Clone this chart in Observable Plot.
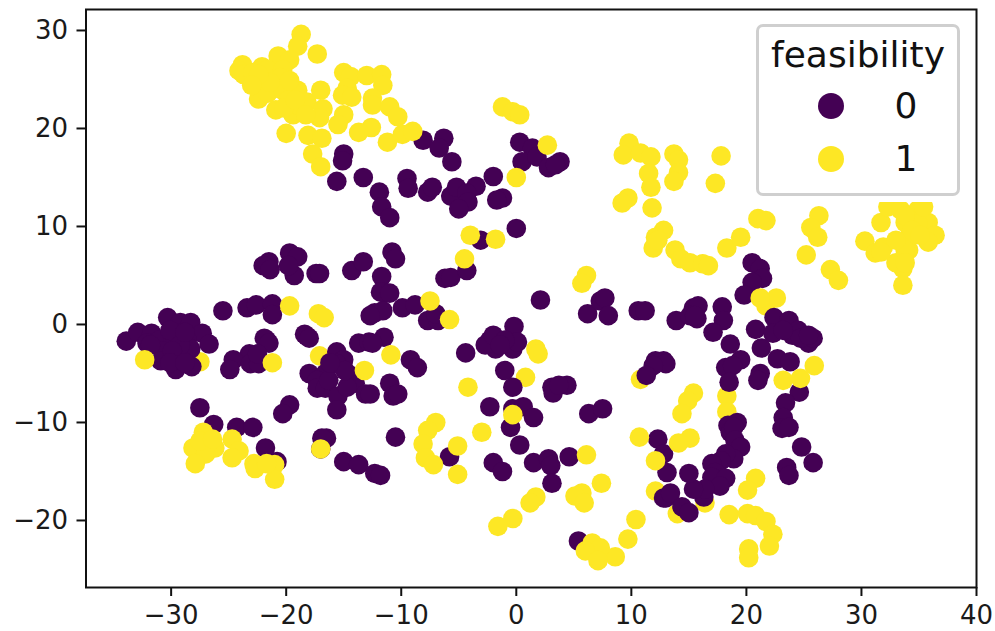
<!DOCTYPE html>
<html>
<head>
<meta charset="utf-8">
<script src="https://cdn.jsdelivr.net/npm/d3@7"></script>
<script src="https://cdn.jsdelivr.net/npm/@observablehq/plot@0.6"></script>
<style>
html,body{margin:0;padding:0;background:#fff;}
#wrap{position:relative;width:995px;height:631px;font-family:"DejaVu Sans",sans-serif;overflow:hidden;}
#wrap svg{display:block;}
#legend{position:absolute;left:756px;top:24px;width:204px;height:178px;background:#fff;}
#legend .box{position:absolute;left:0;top:0;width:198px;height:166px;border:3px solid #cfcfcf;border-radius:7px;background:#fff;}
#legend .t{position:absolute;color:#111;font-size:36px;line-height:40px;white-space:pre;}
#legend .d{position:absolute;width:26px;height:26px;border-radius:50%;}
</style>
</head>
<body>
<div id="wrap"></div>
<script>
const xTicks = [-30,-20,-10,0,10,20,30,40];
const yTicks = [-20,-10,0,10,20,30];
const classes = [0,1];
const classColors = ["#440154","#fde725"];
const legendTitle = "feasibility";

const yellowUnder = [[-29.9,-0.8],[-27.5,-3.8],[10.8,-5.6],[12.1,-17.0],[14.0,-19.3],[16.4,-18.2],[21.7,1.9],[22.6,2.7],[0.8,-5.4],[18.3,-7.3],[18.3,-8.9],[-17.1,-3.2]];

const purple = [
[-33.9,-1.7],[-32.9,-0.8],[-31.7,-0.9],[-30.3,0.7],[-29.2,0.2],[-28.3,0.2],[-27.3,-0.9],[-26.7,-2.0],[-32.1,-1.9],[-31.0,-1.6],[-29.8,-1.6],[-28.6,-1.6],[-30.7,-2.7],[-28.3,-2.5],[-30.9,-3.7],[-29.5,-3.4],[-29.6,-4.6],[-28.2,-4.3],[-29.2,-0.9],
[-30.1,-0.6],[-29.2,-2.1],[-29.9,-2.7],[-28.8,-0.8],[-31.8,-2.1],[-30.1,-3.9],[-28.8,-3.9],
[-25.5,1.4],[-23.4,1.7],[-22.6,2.0],[-21.2,2.1],[-21.2,1.0],[-21.7,-1.6],[-21.9,-1.4],[-21.5,-1.9],[-23.2,-3.0],[-24.6,-3.6],[-24.9,-4.6],[-23.1,-4.0],[-22.4,-4.0],[-22.5,-3.0],
[-21.5,6.4],[-22.0,6.0],[-21.4,5.6],[-19.7,7.3],[-19.0,6.9],[-19.3,5.0],[-19.8,6.0],[-17.4,5.2],[-17.1,5.2],[-14.3,5.5],[-13.3,6.4],[-18.2,-1.2],[-18.4,-1.0],[-18.0,-1.4],
[-15.6,-2.8],[-15.0,-3.6],[-15.6,-4.0],[-18.0,-5.0],[-16.6,-5.0],[-17.3,-5.7],[-17.3,-6.5],[-16.6,-6.5],[-16.3,-5.7],[-14.4,-5.2],[-14.0,-6.0],[-13.1,-7.1],[-15.5,-7.3],[-15.6,-8.7],[-14.7,-6.4],[-13.7,-1.9],[-12.8,-1.8],[-14.9,-4.7],[-16.2,-3.9],
[-27.5,-8.5],[-26.3,-10.2],[-24.3,-10.5],[-22.9,-10.5],[-21.8,-12.6],[-20.8,-14.0],[-19.7,-8.2],[-20.3,-9.1],[-16.5,-11.6],[-16.9,-11.6],[-17.0,-12.7],[-15.0,-14.0],[-13.7,-14.3],[-12.3,-15.2],[-11.8,-15.4],
[-15.0,17.4],[-15.1,16.7],[-15.6,14.6],[-13.3,15.0],[-11.9,13.5],[-11.7,12.0],[-11.0,10.9],[-8.1,18.8],[-6.3,19.0],[-6.7,18.0],[-5.6,16.6],[-9.5,14.9],[-9.4,13.9],[-7.7,13.5],[-7.3,14.0],[-5.7,13.1],[-5.2,14.0],[-3.5,14.1],[-4.3,13.4],[-4.2,12.5],[-5.0,11.8],[-2.0,15.1],[-1.2,12.9],[-1.7,12.7],
[0.3,18.6],[1.4,18.0],[0.5,16.6],[1.8,17.1],[2.8,16.0],[3.8,16.6],[3.4,16.3],[-3.1,8.6],[0.0,9.8],[-10.8,7.4],[-10.5,6.7],
[-11.7,4.9],[-11.4,3.2],[-11.8,3.3],[-11.0,3.2],[-12.3,1.2],[-11.6,1.4],[-12.7,0.9],[-9.9,1.7],[-8.8,2.0],[-7.7,0.4],[-6.8,0.4],[-7.0,1.1],[-6.2,4.7],[-5.7,4.8],[-4.3,5.5],[-11.5,-1.3],[-12.5,-1.9],[-9.2,-3.6],[-8.6,-4.4],[-11.0,-6.0],[-10.7,-7.3],[-10.3,-7.1],[-12.7,-7.1],[-10.5,-11.5],
[-4.4,-2.9],[-0.2,-0.2],[-2.3,-1.6],[-1.8,-2.5],[-2.7,-2.1],[-2.0,-1.1],[-0.3,-2.5],[0.1,-1.8],[-1.0,-1.6],[-1.4,-2.1],[-1.0,-4.7],[-0.3,-6.4],[2.1,2.5],[3.1,-6.4],[4.4,-6.2],[3.2,-7.0],[3.7,-6.2],[-2.3,-8.4],[-0.5,-10.5],[-0.3,-8.6],[0.6,-8.4],[1.5,-9.5],[0.3,-12.3],[-2.0,-14.1],[-1.2,-15.0],[1.5,-14.1],[2.8,-13.7],[3.0,-14.4],[4.6,-13.5],[3.1,-16.2],[-5.8,-13.5],[5.4,-22.1],[6.3,-9.1],[7.5,-8.6],[6.2,1.1],[7.3,2.4],[7.7,2.7],[8.0,0.9],[10.6,1.4],[11.2,1.4],
[12.3,-11.7],[12.8,-13.2],[13.1,-15.1],[12.8,-17.7],[13.9,0.4],[15.4,1.7],[15.8,1.9],[15.7,0.6],[15.1,0.9],[15.5,0.9],[17.9,1.8],[18.0,0.4],[17.1,-0.8],[18.6,-2.0],[19.5,-3.6],[18.2,-4.4],[18.8,-4.2],[18.5,-5.9],
[20.5,6.3],[21.2,5.7],[21.4,4.7],[20.5,4.3],[19.8,3.0],[20.8,-0.5],[21.3,-2.4],[22.4,0.7],[22.3,-0.9],[23.7,0.4],[24.0,-1.1],[24.5,-0.6],[25.4,-1.9],[25.8,-1.4],[24.7,-1.4],[23.2,-0.6],[25.4,-1.1],[22.7,-3.5],[23.8,-3.8],[21.2,-5.0],[21.0,-5.7],[24.6,-6.9],[23.4,-8.0],[23.2,-9.5],[23.1,-10.6],[23.7,-10.5],[24.8,-12.5],[25.8,-14.1],[23.5,-14.6],[23.7,-15.4],
[12.8,-3.7],[12.1,-3.7],[13.0,-4.0],[11.9,-4.2],[11.3,-5.2],[18.4,-10.3],[19.2,-10.0],[18.6,-11.0],[18.9,-10.5],[19.0,-11.8],[19.5,-12.5],[18.9,-13.7],[18.2,-13.2],[17.8,-13.9],[17.0,-14.2],[17.3,-15.1],[17.0,-15.6],[18.2,-15.7],[17.7,-16.5],[16.3,-17.6],[16.4,-16.8],[15.4,-16.8],[15.0,-15.2],[13.0,-17.7],[13.4,-17.2],[14.4,-18.6],[15.0,-19.2]
];

const yellowOver = [
[-32.3,-3.6],[-19.7,1.9],[-17.2,1.1],[-16.7,0.7],[-21.2,-3.9],[-13.2,-4.7],[-17.0,-12.7],
[-27.2,-11.0],[-28.1,-12.6],[-27.0,-12.1],[-26.2,-12.6],[-27.0,-13.2],[-27.9,-14.2],[-24.7,-11.7],[-24.1,-12.9],[-24.7,-13.6],[-22.8,-14.2],[-22.7,-14.7],[-21.0,-14.3],[-21.0,-15.8],[-21.7,-14.2],[-27.5,-11.9],[-26.4,-11.7],
[-18.7,29.6],[-19.0,28.4],[-17.3,27.6],[-23.8,26.5],[-24.1,25.9],[-23.7,25.5],[-20.7,27.4],[-19.7,27.0],[-22.1,26.3],[-22.9,25.7],[-21.6,26.0],[-20.3,26.0],[-22.0,24.7],[-20.5,25.2],[-22.4,23.0],[-21.6,23.6],[-19.0,23.9],[-20.3,23.9],[-19.8,22.9],[-20.9,21.9],[-19.4,21.4],[-18.8,22.2],[-18.2,22.7],[-17.0,23.9],[-20.0,19.5],[-16.8,22.0],[-17.1,21.1],[-15.0,21.4],[-15.5,20.4],[-18.1,19.3],[-16.9,19.0],[-17.7,17.4],[-17.0,16.1],
[-21.4,24.7],[-22.4,25.5],[-20.2,22.1],[-19.2,22.9],[-18.3,21.4],[-23.0,24.4],[-19.7,24.9],
[-15.0,25.7],[-14.4,25.3],[-13.0,25.4],[-11.7,25.5],[-11.6,24.4],[-14.7,24.1],[-15.1,23.4],[-14.3,23.2],[-12.5,23.1],[-12.5,22.4],[-11.0,22.2],[-10.3,21.2],[-12.6,20.1],[-13.7,19.6],[-11.2,18.6],[-9.9,19.4],[-9.0,19.7],
[-1.2,22.2],[-0.3,21.7],[0.3,21.4],[2.7,18.3],[0.0,15.0],[-4.0,9.1],[-1.8,8.7],[-4.5,6.7],
[-7.5,2.4],[-5.8,0.5],[-10.9,-3.1],[-4.2,-6.4],[1.7,-2.5],[1.9,-3.0],[6.1,5.0],[5.7,4.2],[-7.0,-10.0],[-7.7,-10.8],[-8.1,-12.2],[-7.9,-13.6],[-7.2,-14.3],[-5.1,-12.4],[-5.1,-15.3],[-3.0,-11.0],[-0.3,-9.2],[6.1,-13.3],[7.4,-16.2],[1.7,-17.6],[1.2,-18.2],[-0.3,-19.8],[-1.6,-20.6],[5.7,-17.2],[5.1,-17.5],[5.9,-18.2],[10.4,-19.9],[9.7,-21.9],[8.6,-23.7],[6.6,-22.3],[7.3,-22.8],[6.0,-23.1],[7.1,-24.1],[10.7,-11.5],[12.1,-13.9],
[15.4,-7.0],[14.9,-7.8],[14.4,-9.1],[15.1,-11.6],[14.1,-12.1],[20.8,-15.7],[20.1,-16.9],[18.5,-19.4],[20.1,-19.3],[20.8,-19.5],[21.7,-20.1],[22.3,-21.4],[22.0,-22.6],[20.2,-22.9],[20.2,-23.8],[21.2,2.7],[23.2,-5.7],[24.7,-5.5],[25.9,-4.2],
[9.8,18.5],[9.3,17.3],[10.8,17.5],[11.7,17.1],[11.5,15.4],[11.7,14.0],[9.7,12.9],[9.2,12.4],[11.8,11.9],[13.7,17.4],[14.1,16.8],[14.1,15.5],[13.7,14.6],[17.8,17.2],[17.3,14.4],[12.8,9.6],[12.1,8.9],[11.9,7.8],[13.8,7.6],[14.3,6.7],[15.1,6.3],[16.2,6.2],[16.7,6.0],[18.3,7.8],[19.5,8.9],[21.0,10.8],[21.7,10.6],[26.3,11.1],[25.6,9.9],[26.2,8.9],[25.2,7.1],[27.3,5.6],[28.0,4.5],[30.3,8.5],[31.2,7.3],[31.9,7.9],[33.6,5.7],[33.6,4.0],[34.1,7.6],[31.7,10.4],[32.3,12.0],[33.4,11.7],[34.9,11.7],[35.8,10.4],[36.4,9.1],[35.8,8.4],[34.1,8.9],[34.9,10.3],[35.4,12.0],[33.8,10.4],[33.0,6.3],[12.3,8.6],[33.8,11.1],[34.4,9.6],[33.8,7.6],[33.0,8.6],[35.1,9.1],[33.8,6.3],[31.7,7.4]
];

const px = d => d[0], py = d => d[1];
const fmt = d => String(d).replace("-", "\u2212");
const chart = Plot.plot({
  width: 995, height: 631,
  marginLeft: 85.5, marginRight: 19, marginTop: 9, marginBottom: 44,
  x: {domain: [-37.4, 40]},
  y: {domain: [-26.84, 32.14]},
  color: {type: "ordinal", domain: classes, range: classColors},
  style: {background: "#fff", fontFamily: '"DejaVu Sans", sans-serif'},
  marks: [
    Plot.dot(yellowUnder, {x: px, y: py, r: 9.8, fill: () => classes[1]}),
    Plot.dot(purple, {x: px, y: py, r: 9.8, fill: () => classes[0]}),
    Plot.dot(yellowOver, {x: px, y: py, r: 9.8, fill: () => classes[1]}),
    Plot.frame({stroke: "#111", strokeWidth: 2}),
    Plot.axisX({ticks: xTicks, tickSize: 9, tickPadding: 9, fontSize: 26, label: null, stroke: "#111", strokeWidth: 2, color: "#1a1a1a", tickFormat: fmt}),
    Plot.axisY({ticks: yTicks, tickSize: 9, tickPadding: 9, fontSize: 26, label: null, stroke: "#111", strokeWidth: 2, color: "#1a1a1a", tickFormat: fmt})
  ]
});
const wrap = document.getElementById("wrap");
wrap.appendChild(chart);

const lg = document.createElement("div");
lg.id = "legend";
const box = document.createElement("div");
box.className = "box";
lg.appendChild(box);
function addText(s, cx, cy){
  const e = document.createElement("div");
  e.className = "t"; e.textContent = s;
  e.style.left = cx + "px"; e.style.top = (cy - 20) + "px";
  e.style.transform = "translateX(-50%)";
  lg.appendChild(e);
}
addText(legendTitle, 102, 31);
const rowY = [82, 135];
classes.forEach((c, i) => {
  const d = document.createElement("div");
  d.className = "d";
  d.style.left = (75 - 13) + "px";
  d.style.top = (rowY[i] - 13) + "px";
  d.style.background = classColors[i];
  lg.appendChild(d);
  addText(String(c), 150, rowY[i]);
});
wrap.appendChild(lg);
</script>
</body>
</html>
